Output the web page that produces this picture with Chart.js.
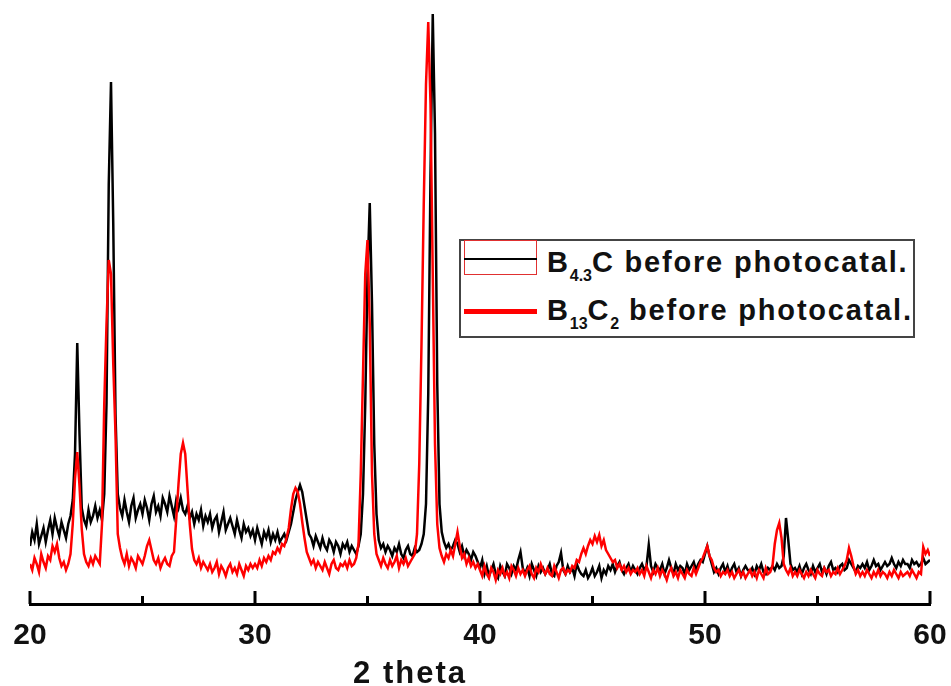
<!DOCTYPE html>
<html>
<head>
<meta charset="utf-8">
<script src="https://cdn.jsdelivr.net/npm/chart.js@4/dist/chart.umd.min.js"></script>
<style>
  body { margin: 0; background: #fff; }
  #wrap { position: relative; width: 951px; height: 686px; }
  #legend {
    position: absolute; left: 459px; top: 239px; width: 452px; height: 95px;
    border: 2px solid #444; background: #fff;
    font-family: "Liberation Sans", Arial, sans-serif; font-weight: bold;
    color: #111; font-size: 29px; letter-spacing: 1.8px;
  }
  #legend .row { position: absolute; left: 86px; line-height: 28px; white-space: nowrap; }
  #legend sub { font-size: 16px; vertical-align: -9px; letter-spacing: 0; }
  #legend .sw { position: absolute; left: 3px; width: 73px; }
</style>
</head>
<body>
<div id="wrap">
  <canvas id="myChart" width="951" height="686"></canvas>
  <div id="legend"></div>
</div>
<script>
// 2 theta grid: 20.0 .. 60.0, step 0.1
const thetaStart = 20;
const thetaStep = 0.1;

// B4.3C before photocatal. (black), one row per degree
const b43c = [
  58,72,64,80,60,68,76,62,74,84,
  70,86,76,68,82,74,66,80,88,104,
  150,261,170,96,84,78,94,82,88,98,
  86,94,84,110,200,420,522,380,190,110,
  96,88,104,92,82,98,106,86,94,100,
  90,104,96,84,100,108,92,98,88,106,
  100,92,108,98,88,104,96,106,94,90,
  98,86,92,80,90,84,94,78,88,82,
  90,76,84,88,72,82,92,74,80,86,
  78,70,84,74,66,80,72,76,68,74,
  64,76,68,60,72,66,74,62,70,64,
  72,62,66,70,64,72,80,92,104,112,
  119,112,98,84,70,66,58,68,62,56,
  66,58,54,64,60,52,62,58,50,60,
  56,62,52,58,54,50,58,70,110,200,
  330,401,300,160,90,64,56,60,52,58,
  54,48,56,52,60,50,46,54,58,50,
  48,56,52,54,60,70,100,210,430,590,
  470,220,100,72,62,56,60,54,58,64,
  60,52,58,48,54,50,44,52,48,42,
  36,44,30,38,28,34,40,30,26,38,
  32,28,40,36,30,38,34,44,52,36,
  30,36,28,40,34,28,38,32,36,30,
  34,40,30,28,38,42,51,34,30,38,
  32,36,28,40,34,30,28,34,26,30,
  36,28,32,38,26,34,30,38,34,40,
  32,38,42,34,30,36,40,32,38,34,
  30,36,40,34,38,59,38,32,40,36,
  34,40,30,36,44,36,30,40,34,38,
  36,30,40,34,38,42,34,40,44,42,
  50,58,48,40,32,36,30,36,40,32,
  38,30,36,40,32,36,28,34,38,34,
  32,36,30,38,34,40,32,30,36,34,
  38,34,40,36,38,48,86,64,40,34,
  36,32,38,30,36,40,34,30,38,32,
  36,40,32,36,30,38,42,34,36,32,
  38,40,34,36,44,40,36,32,38,36,
  40,36,42,34,38,44,38,40,34,38,
  42,38,40,46,40,36,42,38,44,40,
  40,36,44,40,42,38,40,46,40,42,
  44
];

// B13C2 before photocatal. (red)
const b13c2 = [
  40,34,46,40,32,50,42,36,48,44,
  58,52,60,46,38,42,34,40,50,80,
  125,152,118,75,50,42,38,46,40,48,
  44,40,80,200,280,344,330,240,170,70,
  56,46,40,50,38,46,42,36,48,44,
  40,48,58,64,54,44,40,46,36,42,
  46,40,38,48,52,85,120,150,161,150,
  115,80,55,44,40,46,36,42,38,34,
  40,32,36,42,30,38,34,28,36,40,
  32,36,30,40,34,28,38,34,40,36,
  40,36,44,38,46,42,48,44,52,50,
  56,52,60,58,66,76,95,110,116,112,
  100,82,66,52,46,40,44,36,42,38,
  34,42,36,30,40,44,36,34,40,38,
  42,36,44,38,40,46,60,130,230,330,
  364,280,130,70,50,44,38,46,40,36,
  44,38,42,48,36,44,40,46,38,42,
  46,50,70,140,260,400,520,582,500,330,
  160,80,56,48,42,50,46,54,48,60,
  72,58,46,50,40,46,38,42,36,40,
  34,28,38,30,26,36,32,24,34,30,
  36,28,32,26,38,34,28,36,30,34,
  28,34,38,30,26,36,32,40,34,30,
  36,30,28,38,32,26,34,36,30,34,
  32,38,36,44,42,50,56,50,58,64,
  60,68,62,69,58,64,54,50,46,42,
  44,36,40,34,38,32,36,30,34,32,
  36,30,34,28,38,32,26,34,30,36,
  28,34,30,24,32,36,28,32,26,34,
  30,26,34,30,28,36,30,36,42,46,
  52,58,48,44,36,32,34,28,32,30,
  34,28,32,26,30,34,28,32,26,30,
  34,28,32,26,34,30,26,36,30,32,
  38,60,74,81,66,40,34,30,36,28,
  32,28,34,30,26,32,28,34,30,26,
  34,30,28,36,32,34,28,32,30,36,
  30,34,38,44,56,48,38,30,34,28,
  32,28,34,30,26,32,28,34,28,32,
  30,26,32,28,34,30,26,32,28,30,
  32,28,34,30,26,32,30,57,50,54,
  48
];

const seriesLabels = ['B<sub>4.3</sub>C before photocatal.', 'B<sub>13</sub>C<sub>2</sub> before photocatal.'];
const majorTicks = [20, 30, 40, 50, 60];
const minorTicks = [25, 35, 45, 55];
const xTitle = '2 theta';

function toPoints(vals) {
  return vals.map((v, i) => ({ x: +(thetaStart + i * thetaStep).toFixed(1), y: v }));
}

// inward tick marks + axis title
const axisDecor = {
  id: 'axisDecor',
  afterDraw(chart) {
    const { ctx, scales: { x }, chartArea } = chart;
    const bottom = chartArea.bottom;
    ctx.save();
    ctx.strokeStyle = '#000';
    ctx.lineWidth = 3;
    ctx.beginPath();
    majorTicks.forEach(v => {
      const px = x.getPixelForValue(v);
      ctx.moveTo(px, bottom);
      ctx.lineTo(px, bottom - 13);
    });
    minorTicks.forEach(v => {
      const px = x.getPixelForValue(v);
      ctx.moveTo(px, bottom);
      ctx.lineTo(px, bottom - 8);
    });
    ctx.stroke();
    ctx.font = 'bold 31px "Liberation Sans", Arial, sans-serif';
    ctx.fillStyle = '#111';
    ctx.textAlign = 'center';
    ctx.textBaseline = 'alphabetic';
    ctx.letterSpacing = '2px';
    ctx.fillText(xTitle, 410, 683);
    ctx.restore();
  }
};

const ctx = document.getElementById('myChart');
new Chart(ctx, {
  type: 'line',
  data: {
    datasets: [{
      label: seriesLabels[0].replace(/<[^>]+>/g, ''),
      data: toPoints(b43c),
      borderColor: '#000000',
      borderWidth: 2.5,
      pointRadius: 0,
      order: 2
    }, {
      label: seriesLabels[1].replace(/<[^>]+>/g, ''),
      data: toPoints(b13c2),
      borderColor: '#ff0000',
      borderWidth: 2.5,
      pointRadius: 0,
      order: 1
    }]
  },
  options: {
    responsive: false,
    animation: false,
    layout: { padding: { left: 30, right: 21, top: 4, bottom: 0 } },
    plugins: { legend: { display: false }, tooltip: { enabled: false } },
    scales: {
      x: {
        type: 'linear',
        min: 20,
        max: 60,
        grid: { display: false, drawTicks: false },
        border: { display: true, color: '#000', width: 3 },
        ticks: {
          stepSize: 10,
          padding: 14,
          color: '#111',
          font: { family: '"Liberation Sans", Arial, sans-serif', size: 30, weight: 'bold' }
        },
        afterFit(scale) {
          scale.height = 82;
          scale.paddingLeft = 0;
          scale.paddingRight = 0;
        }
      },
      y: {
        display: false,
        min: 0,
        max: 600
      }
    }
  },
  plugins: [axisDecor]
});

// legend with subscripts
document.getElementById('legend').innerHTML =
  '<div class="sw" style="top:-1px;height:35px;border:1.5px solid #e03030;box-sizing:border-box;"></div>' +
  '<div class="sw" style="top:17px;height:2px;background:#000;"></div>' +
  '<div class="sw" style="top:68px;height:5px;background:#ff0000;"></div>' +
  '<div class="row" style="top:7px;">' + seriesLabels[0] + '</div>' +
  '<div class="row" style="top:55px;">' + seriesLabels[1] + '</div>';
</script>
</body>
</html>
